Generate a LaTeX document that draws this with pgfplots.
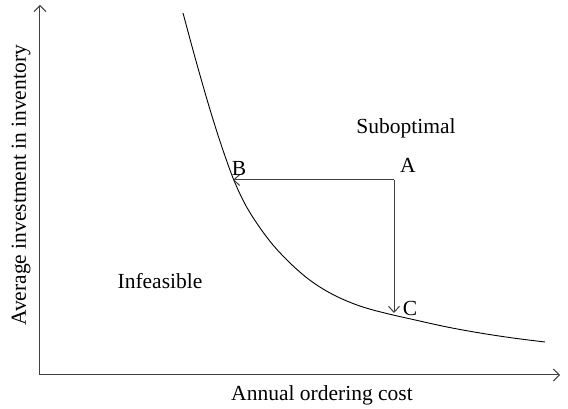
\documentclass[border=0pt]{standalone}
\usepackage{pgfplots}
\pgfplotsset{compat=1.18}
\usepackage{fontspec}
\setmainfont{Liberation Serif}
\usetikzlibrary{arrows.meta}
\definecolor{axgray}{HTML}{404040}
\begin{document}
\begin{tikzpicture}[font=\fontsize{21.5bp}{25bp}\selectfont]
\begin{axis}[
  scale only axis, width=520bp, height=370bp,
  xmin=40, xmax=560, ymin=33, ymax=403,
  axis lines=left,
  axis line style={axgray, line width=1bp, -{Straight Barb[length=6bp,width=12bp]}},
  xtick=\empty, ytick=\empty,
  clip=false,
]
\path (axis cs:0,0) rectangle (axis cs:568,408);
\addplot[black, line width=0.9bp, smooth, tension=0.55] coordinates {
(183,395) (195,350.6) (208,305.1) (220,266.7) (233,230) (245,204) (258,183)
(273,163) (290,145) (307,130) (323,119) (340,110) (357,103)
(373,98) (393,93) (413,88.5) (447,81) (480,75) (513,70) (545,66)};
\addplot[axgray, line width=1bp, -{Straight Barb[length=6bp,width=11bp]}] coordinates {(394,228) (233,228)};
\addplot[axgray, line width=1bp, -{Straight Barb[length=6bp,width=11bp]}] coordinates {(394,228) (394,95)};
\node at (axis cs:406,279.5) {Suboptimal};
\node at (axis cs:408,243) {A};
\node at (axis cs:239,240) {B};
\node at (axis cs:410,100) {C};
\node at (axis cs:160,127) {Infeasible};
\node at (axis cs:322,13) {Annual ordering cost};
\node[rotate=90] at (axis cs:21,222.5) {Average investment in inventory};
\end{axis}
\end{tikzpicture}
\end{document}
